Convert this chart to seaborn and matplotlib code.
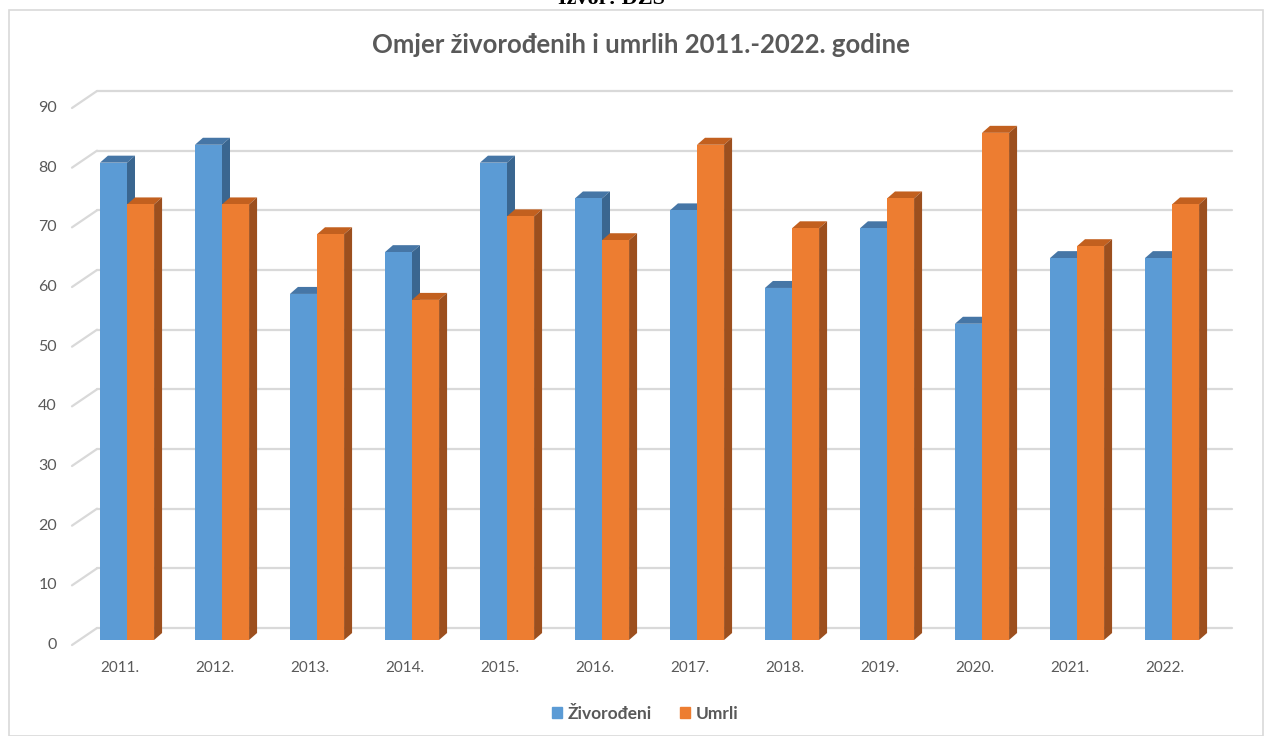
import numpy as np
import pandas as pd
import matplotlib
matplotlib.use("Agg")
import matplotlib.pyplot as plt
import matplotlib.transforms as mtransforms
from matplotlib.patches import Polygon, Patch, Rectangle
import seaborn as sns

# ---- data ----
godine = ["2011.", "2012.", "2013.", "2014.", "2015.", "2016.",
          "2017.", "2018.", "2019.", "2020.", "2021.", "2022."]
zivorodeni = [80, 83, 58, 65, 80, 74, 72, 59, 69, 53, 64, 64]
umrli = [73, 73, 68, 57, 71, 67, 83, 69, 74, 85, 66, 73]
serije = ["Živorođeni", "Umrli"]
y_ticks = [0, 10, 20, 30, 40, 50, 60, 70, 80, 90]
naslov = "Omjer živorođenih i umrlih 2011.-2022. godine"
izvor = "Izvor: DZS"

df = pd.DataFrame({
    "Godina": godine * 2,
    "Vrijednost": zivorodeni + umrli,
    "Serija": [serije[0]] * len(godine) + [serije[1]] * len(godine),
})

# ---- style ----
sns.set_style("white")
plt.rcParams["font.family"] = ["Lato", "DejaVu Sans"]
blue, orange = "#5B9BD5", "#ED7D31"
shade = {
    "blue": ("#4676A6", "#3A6690"),     # top, side
    "orange": ("#C2601F", "#9C4F1E"),
}
grid_c = "#D9D9D9"
txt_c = "#595959"

W, H = 1264, 736
fig = plt.figure(figsize=(W / 100, H / 100), dpi=100)
fig.patch.set_facecolor("white")

# chart border
fig.add_artist(Rectangle((9 / W, 0), (W - 10) / W, (H - 10) / H,
                         transform=fig.transFigure, fill=False,
                         edgecolor=grid_c, lw=1.2))

ax = fig.add_axes([79.5 / W, 96 / H, 1140 / W, 537 / H])
sns.barplot(data=df, x="Godina", y="Vrijednost", hue="Serija",
            palette=[blue, orange], saturation=1, width=0.57,
            ax=ax, legend=False, zorder=3, errorbar=None)
ax.set_xlim(-0.5, 11.5)
ax.set_ylim(0, 90)
ax.set_axis_off()

front = ax.transData + mtransforms.ScaledTranslation(-7.5 / 100, -5 / 100, fig.dpi_scale_trans)
back = ax.transData + mtransforms.ScaledTranslation(17.5 / 100, 12 / 100, fig.dpi_scale_trans)
inv = ax.transData.inverted()

# gridlines (back wall + left diagonal)
for v in y_ticks:
    ax.plot([-0.5, 11.45], [v, v], transform=back, color=grid_c, lw=1.6,
            zorder=1, clip_on=False)
    p1 = inv.transform(front.transform((-0.5, v)))
    p2 = inv.transform(back.transform((-0.5, v)))
    ax.plot([p1[0], p2[0]], [p1[1], p2[1]], color=grid_c, lw=1.6,
            zorder=1, clip_on=False)
    ax.text(-0.5, v, str(v), transform=front + mtransforms.ScaledTranslation(-15 / 100, 0, fig.dpi_scale_trans),
            ha="right", va="center", fontsize=11.5, color=txt_c)

for i, g in enumerate(godine):
    ax.text(i, 0, g, transform=front + mtransforms.ScaledTranslation(0, -23 / 100, fig.dpi_scale_trans),
            ha="center", va="center", fontsize=11, color=txt_c)

# 3D faces of bars
dxp, dyp = 8, 7
sx = 12 / 1140
sy = 90 / 537
dx, dy = dxp * sx, dyp * sy
for p in list(ax.patches):
    x0 = p.get_x()
    w = p.get_width()
    h = p.get_height()
    fc = matplotlib.colors.to_hex(p.get_facecolor())
    key = "blue" if fc.lower() == blue.lower() else "orange"
    top_c, side_c = shade[key]
    p.set_edgecolor("none")
    x1 = x0 + w
    top = Polygon([(x0, h), (x1, h), (x1 + dx, h + dy), (x0 + dx, h + dy)],
                  closed=True, facecolor=top_c, edgecolor="none",
                  zorder=2.5, clip_on=False)
    side = Polygon([(x1, 0), (x1, h), (x1 + dx, h + dy), (x1 + dx, dy)],
                   closed=True, facecolor=side_c, edgecolor="none",
                   zorder=2.5, clip_on=False)
    ax.add_patch(top)
    ax.add_patch(side)

# title & source
fig.text(641 / W, 1 - 45 / H, naslov, ha="center", va="center",
         fontsize=18.5, fontweight="bold", color=txt_c)
fig.text(612 / W, 1 - 4 / H, izvor, ha="center", va="baseline",
         fontsize=16, fontweight="bold", color="black",
         family=["Liberation Serif", "DejaVu Serif"])

# legend
handles = [Patch(color=blue, label=serije[0]), Patch(color=orange, label=serije[1])]
fig.legend(handles=handles, loc="center", bbox_to_anchor=(645 / W, 1 - 714 / H),
           ncol=2, frameon=False, handlelength=0.6, handleheight=0.6,
           handletextpad=0.3, columnspacing=1.6, labelcolor=txt_c,
           prop={"size": 12.5, "weight": "bold"})

fig.savefig("out.png", dpi=100, facecolor="white")
